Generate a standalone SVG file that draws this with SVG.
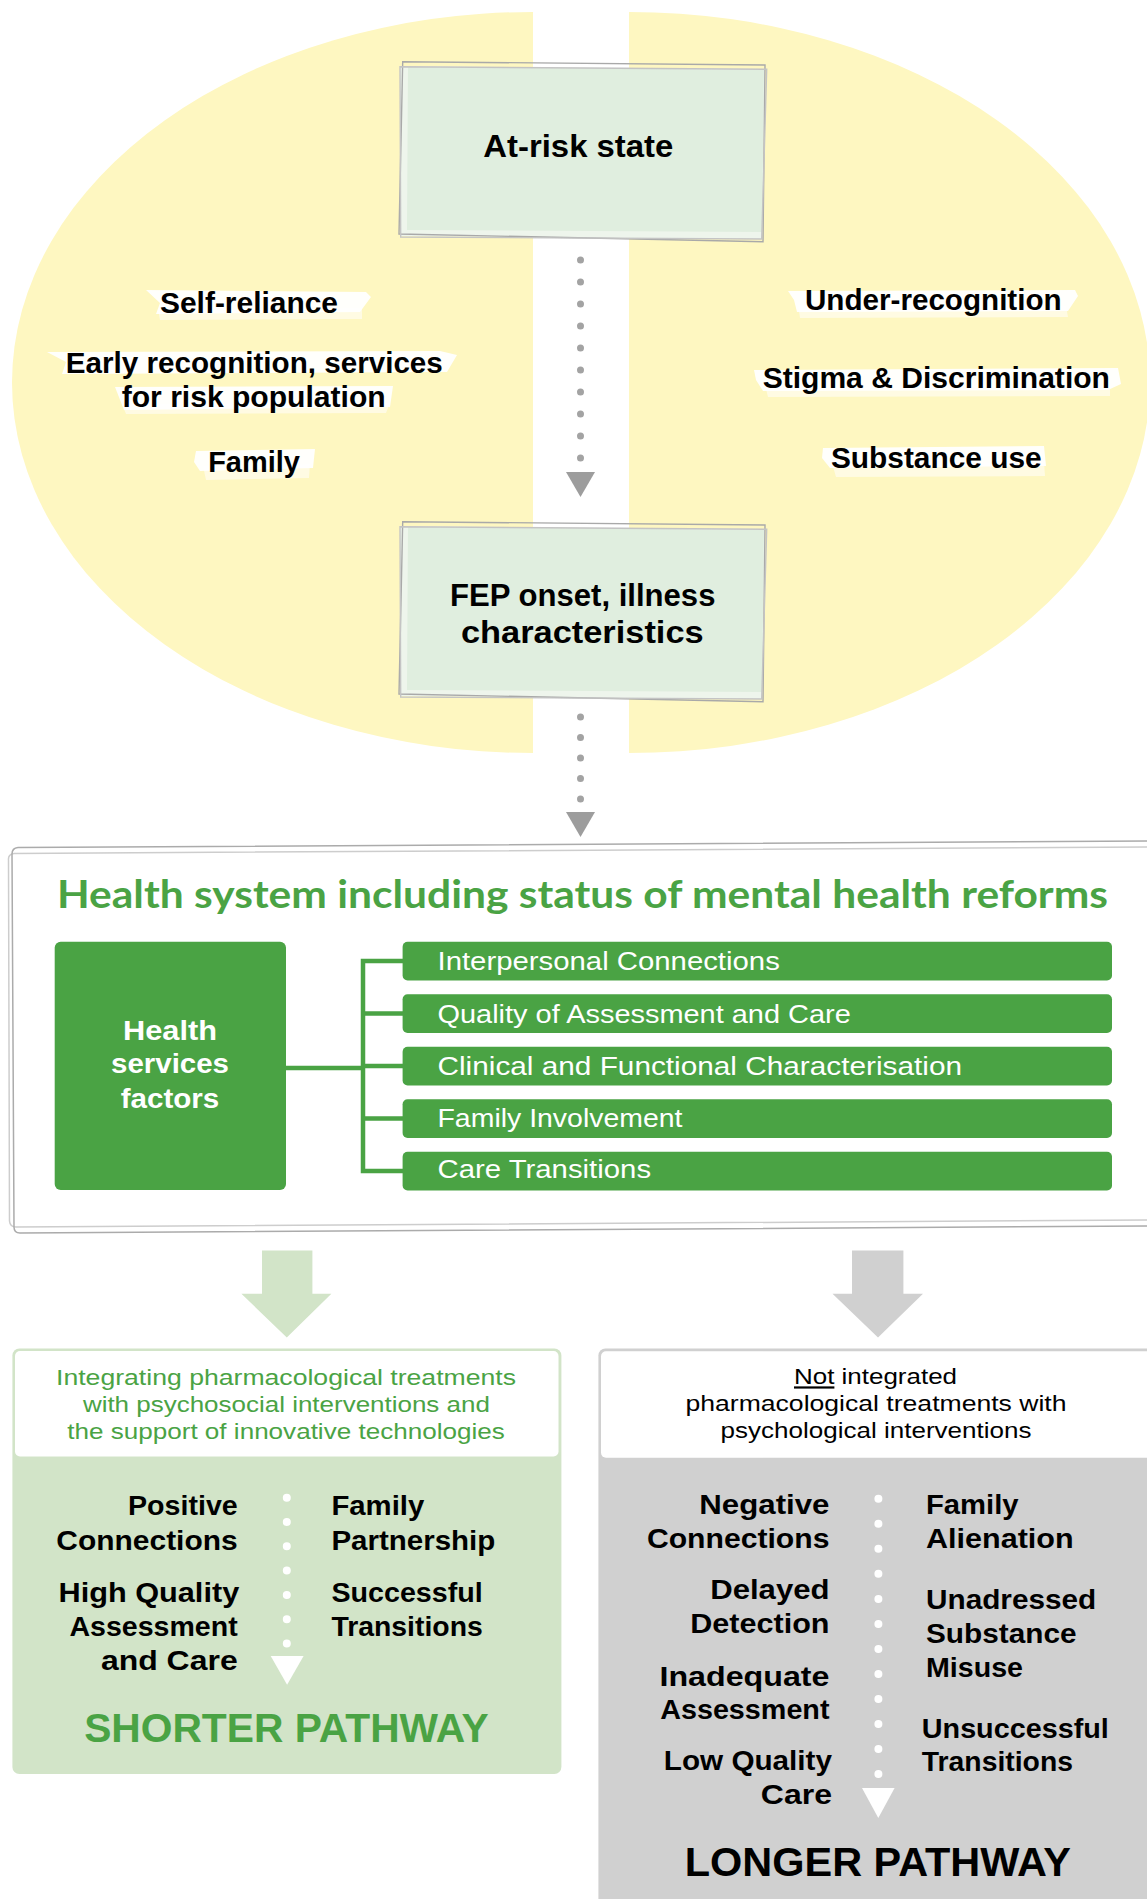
<svg xmlns="http://www.w3.org/2000/svg" xmlns:xlink="http://www.w3.org/1999/xlink" width="1147" height="1899" viewBox="0 0 1147 1899">
  <style>
    .sans { font-family: "Liberation Sans", Arial, sans-serif; }
    .lbl { font-family: "Liberation Sans", Arial, sans-serif; font-weight: bold; font-size: 30px; fill: #000; text-anchor: middle; }
    .node-title { font-family: "Liberation Sans", Arial, sans-serif; font-weight: bold; font-size: 31px; fill: #000; text-anchor: middle; }
    .hs-title { font-family: Lato, "Liberation Sans", sans-serif; font-weight: bold; font-size: 39px; fill: #4aa344; }
    .svc { font-family: "Liberation Sans", Arial, sans-serif; font-weight: bold; font-size: 28px; fill: #fff; text-anchor: middle; }
    .bar-txt { font-family: "Liberation Sans", Arial, sans-serif; font-size: 26px; fill: #fff; }
    .hdr { font-family: "Liberation Sans", Arial, sans-serif; font-size: 22px; text-anchor: middle; }
    .body { font-family: "Liberation Sans", Arial, sans-serif; font-weight: bold; font-size: 27px; fill: #000; }
    .r { text-anchor: end; }
    .pathway { font-family: "Liberation Sans", Arial, sans-serif; font-weight: bold; font-size: 40px; text-anchor: middle; }
    .brush { fill: #ffffff; opacity: 0.95; }
    .brush2 { fill: #ffffff; opacity: 0.55; }
    .green-bar { fill: #4aa344; }
    .tree { fill: none; stroke: #4aa344; stroke-width: 4.5; }
    .dots-grey { fill: none; stroke: #a3a3a3; stroke-width: 7; stroke-linecap: round; }
    .dots-white { fill: none; stroke: #ffffff; stroke-width: 8; stroke-linecap: round; }
  </style>
  <defs>
    <!-- hand-drawn looking box, reused for both stage nodes -->
    <g id="sketch-box">
      <polygon points="400,66 765,69 762,239 400,236" fill="#eef5ec"/>
      <polygon points="408,67 764,70 762,232 407,230" fill="#e0eedf"/>
      <polygon points="402.7,61.7 765,65 763,241.7 399,234" fill="none" stroke="#a9a9a9" stroke-width="1.4"/>
      <polygon points="400,66.7 766.7,69.3 761.7,239 400.7,237" fill="none" stroke="#c4c4c4" stroke-width="1.4"/>
    </g>
  </defs>

  <rect width="1147" height="1899" fill="#ffffff"/>

  <!-- yellow background split in two halves -->
  <g id="background-halves">
    <path d="M533 12 A521 370.5 0 0 0 533 753 Z" fill="#fef7c1"/>
    <path d="M629 12 A521 370.5 0 0 1 629 753 Z" fill="#fef7c1"/>
  </g>

  <!-- protective factors (left) -->
  <g id="label-self-reliance">
    <polygon class="brush" points="146,290 366,292 371,297 360,312 156,314 160,303"/>
    <polygon class="brush2" points="158,309 362,308 362,319 160,320"/>
    <text class="lbl" x="249" y="313.3" textLength="178" lengthAdjust="spacingAndGlyphs">Self-reliance</text>
  </g>
  <g id="label-early-recognition">
    <polygon class="brush" points="47,352 440,351 457,355 447,372 62,374 66,362"/>
    <polygon class="brush" points="115,387 393,386 390,407 124,410"/>
    <polygon class="brush2" points="122,404 390,403 386,413 126,414"/>
    <text class="lbl" x="254.3" y="372.5" textLength="377" lengthAdjust="spacingAndGlyphs">Early recognition, services</text>
    <text class="lbl" x="253.7" y="406.7" textLength="264" lengthAdjust="spacingAndGlyphs">for risk population</text>
  </g>
  <g id="label-family">
    <polygon class="brush" points="196,451 315,449 313,468 200,471 194,462"/>
    <polygon class="brush2" points="203,466 310,464 309,478 206,480"/>
    <text class="lbl" x="254" y="471.7" textLength="91.7" lengthAdjust="spacingAndGlyphs">Family</text>
  </g>

  <!-- risk factors (right) -->
  <g id="label-under-recognition">
    <polygon class="brush" points="788,291 1075,290 1078,296 1068,311 797,312 794,300"/>
    <polygon class="brush2" points="798,305 1066,306 1068,317 800,318"/>
    <text class="lbl" x="933.3" y="310" textLength="256.7" lengthAdjust="spacingAndGlyphs">Under-recognition</text>
  </g>
  <g id="label-stigma">
    <polygon class="brush" points="754,370 1118,368 1121,384 1108,390 763,391 756,380"/>
    <polygon class="brush2" points="765,385 1110,385 1110,396 768,397"/>
    <text class="lbl" x="936.3" y="388.3" textLength="347.3" lengthAdjust="spacingAndGlyphs">Stigma &amp; Discrimination</text>
  </g>
  <g id="label-substance-use">
    <polygon class="brush" points="823,448 1044,446 1046,466 830,468 822,458"/>
    <polygon class="brush2" points="832,463 1044,462 1045,476 836,477"/>
    <text class="lbl" x="936.3" y="468.3" textLength="210.7" lengthAdjust="spacingAndGlyphs">Substance use</text>
  </g>

  <!-- stage nodes -->
  <g id="node-at-risk">
    <use xlink:href="#sketch-box"/>
    <text class="node-title" x="578.3" y="156.7" font-size="32" textLength="190" lengthAdjust="spacingAndGlyphs">At-risk state</text>
  </g>
  <g id="node-fep">
    <use xlink:href="#sketch-box" y="460"/>
    <text class="node-title" x="582.7" y="606.3" textLength="265.5" lengthAdjust="spacingAndGlyphs">FEP onset, illness</text>
    <text class="node-title" x="582.3" y="642.5" textLength="242.8" lengthAdjust="spacingAndGlyphs">characteristics</text>
  </g>

  <!-- health system frame -->
  <g id="node-health-system">
    <path d="M1147 847 L14 853.5 Q8 854 8.5 860 L9.5 1221 Q10 1227 16 1227 L1147 1220" fill="#ffffff" stroke="#cdcdcd" stroke-width="1.5"/>
    <path d="M1147 841 L18 847.5 Q12 848 12 854 L14 1227 Q14 1233 20 1233 L1147 1226" fill="none" stroke="#ababab" stroke-width="1.5"/>
    <text class="hs-title" x="57" y="908.3" textLength="1051" lengthAdjust="spacingAndGlyphs">Health system including status of mental health reforms</text>
  </g>
  <g id="node-health-services">
    <rect x="54.7" y="941.7" width="231.3" height="248.3" rx="6" fill="#4aa344"/>
    <text class="svc" x="170" y="1040" textLength="94" lengthAdjust="spacingAndGlyphs">Health</text>
    <text class="svc" x="170" y="1073" textLength="118" lengthAdjust="spacingAndGlyphs">services</text>
    <text class="svc" x="170" y="1107.7" textLength="98.7" lengthAdjust="spacingAndGlyphs">factors</text>
  </g>
  <g id="node-interpersonal">
    <rect class="green-bar" x="402.6" y="941.7" width="709.4" height="38.7" rx="5"/>
    <text class="bar-txt" x="437.5" y="970" textLength="342.3" lengthAdjust="spacingAndGlyphs">Interpersonal Connections</text>
  </g>
  <g id="node-quality">
    <rect class="green-bar" x="402.6" y="994.2" width="709.4" height="38.7" rx="5"/>
    <text class="bar-txt" x="437.5" y="1022.7" textLength="413.3" lengthAdjust="spacingAndGlyphs">Quality of Assessment and Care</text>
  </g>
  <g id="node-clinical">
    <rect class="green-bar" x="402.6" y="1046.7" width="709.4" height="38.7" rx="5"/>
    <text class="bar-txt" x="437.5" y="1075" textLength="524.5" lengthAdjust="spacingAndGlyphs">Clinical and Functional Characterisation</text>
  </g>
  <g id="node-family-involvement">
    <rect class="green-bar" x="402.6" y="1099.2" width="709.4" height="38.7" rx="5"/>
    <text class="bar-txt" x="437.5" y="1127.3" textLength="245" lengthAdjust="spacingAndGlyphs">Family Involvement</text>
  </g>
  <g id="node-care-transitions">
    <rect class="green-bar" x="402.6" y="1151.7" width="709.4" height="38.7" rx="5"/>
    <text class="bar-txt" x="437.5" y="1178.3" textLength="213.6" lengthAdjust="spacingAndGlyphs">Care Transitions</text>
  </g>

  <!-- outcome panels -->
  <g id="node-shorter-pathway">
    <rect x="12.4" y="1348.5" width="549" height="425.5" rx="7" fill="#d2e4c8"/>
    <rect x="15" y="1351" width="543.5" height="105.5" rx="5" fill="#ffffff"/>
    <text class="hdr" fill="#4aa344" x="286" y="1385" textLength="460" lengthAdjust="spacingAndGlyphs">Integrating pharmacological treatments</text>
    <text class="hdr" fill="#4aa344" x="286.4" y="1412.3" textLength="407" lengthAdjust="spacingAndGlyphs">with psychosocial interventions and</text>
    <text class="hdr" fill="#4aa344" x="286" y="1438.8" textLength="437.5" lengthAdjust="spacingAndGlyphs">the support of innovative technologies</text>
    <text class="body r" x="237.7" y="1515.3" textLength="109.7" lengthAdjust="spacingAndGlyphs">Positive</text>
    <text class="body r" x="237.7" y="1549.8" textLength="181.4" lengthAdjust="spacingAndGlyphs">Connections</text>
    <text class="body r" x="239.2" y="1601.5" textLength="180.7" lengthAdjust="spacingAndGlyphs">High Quality</text>
    <text class="body r" x="237.7" y="1636" textLength="168.2" lengthAdjust="spacingAndGlyphs">Assessment</text>
    <text class="body r" x="237.7" y="1669.6" textLength="136.8" lengthAdjust="spacingAndGlyphs">and Care</text>
    <text class="body" x="331.4" y="1515.3" textLength="92.9" lengthAdjust="spacingAndGlyphs">Family</text>
    <text class="body" x="331.4" y="1549.8" textLength="163.9" lengthAdjust="spacingAndGlyphs">Partnership</text>
    <text class="body" x="331.4" y="1601.5" textLength="151.4" lengthAdjust="spacingAndGlyphs">Successful</text>
    <text class="body" x="331.4" y="1636" textLength="151.4" lengthAdjust="spacingAndGlyphs">Transitions</text>
    <path class="dots-white" d="M286.8 1497.7 V1644.5" stroke-dasharray="0 24.3"/>
    <polygon points="270.7,1656 303.6,1656 287.1,1684.7" fill="#ffffff"/>
    <text class="pathway" fill="#4aa344" x="286.4" y="1742.3" textLength="404.5" lengthAdjust="spacingAndGlyphs">SHORTER PATHWAY</text>
  </g>

  <g id="node-longer-pathway">
    <rect x="598.4" y="1348.5" width="600" height="600" rx="7" fill="#d0d0d0"/>
    <rect x="601" y="1351.3" width="560" height="106.4" rx="5" fill="#ffffff"/>
    <text class="hdr" fill="#000" x="875.5" y="1384.4" textLength="163" lengthAdjust="spacingAndGlyphs"><tspan text-decoration="underline">Not</tspan> integrated</text>
    <text class="hdr" fill="#000" x="876" y="1411.3" textLength="381" lengthAdjust="spacingAndGlyphs">pharmacological treatments with</text>
    <text class="hdr" fill="#000" x="876" y="1438.2" textLength="311" lengthAdjust="spacingAndGlyphs">psychological interventions</text>
    <text class="body r" x="829.5" y="1513.7" textLength="130.2" lengthAdjust="spacingAndGlyphs">Negative</text>
    <text class="body r" x="829.5" y="1547.8" textLength="182.6" lengthAdjust="spacingAndGlyphs">Connections</text>
    <text class="body r" x="829.5" y="1599" textLength="119.3" lengthAdjust="spacingAndGlyphs">Delayed</text>
    <text class="body r" x="829.5" y="1633" textLength="139.2" lengthAdjust="spacingAndGlyphs">Detection</text>
    <text class="body r" x="829.5" y="1685.6" textLength="170" lengthAdjust="spacingAndGlyphs">Inadequate</text>
    <text class="body r" x="829.5" y="1718.5" textLength="169.3" lengthAdjust="spacingAndGlyphs">Assessment</text>
    <text class="body r" x="832" y="1769.7" textLength="168.2" lengthAdjust="spacingAndGlyphs">Low Quality</text>
    <text class="body r" x="832" y="1803.8" textLength="71.2" lengthAdjust="spacingAndGlyphs">Care</text>
    <text class="body" x="926" y="1513.7" textLength="92.6" lengthAdjust="spacingAndGlyphs">Family</text>
    <text class="body" x="926" y="1547.8" textLength="147.6" lengthAdjust="spacingAndGlyphs">Alienation</text>
    <text class="body" x="926" y="1608.8" textLength="170.3" lengthAdjust="spacingAndGlyphs">Unadressed</text>
    <text class="body" x="926" y="1643" textLength="150.5" lengthAdjust="spacingAndGlyphs">Substance</text>
    <text class="body" x="926" y="1677" textLength="97" lengthAdjust="spacingAndGlyphs">Misuse</text>
    <text class="body" x="921.8" y="1737.7" textLength="187" lengthAdjust="spacingAndGlyphs">Unsuccessful</text>
    <text class="body" x="921.8" y="1771" textLength="151.2" lengthAdjust="spacingAndGlyphs">Transitions</text>
    <path class="dots-white" d="M878.4 1498.8 V1775" stroke-dasharray="0 25.02"/>
    <polygon points="862,1788 894.6,1788 878.3,1817.9" fill="#ffffff"/>
    <text class="pathway" fill="#000" x="877.8" y="1876.3" textLength="386" lengthAdjust="spacingAndGlyphs">LONGER PATHWAY</text>
  </g>

  <!-- connectors -->
  <g id="connectors">
    <path class="dots-grey" d="M580.5 260 V459" stroke-dasharray="0 22"/>
    <polygon points="566,472 595,472 580.5,497" fill="#9d9d9d"/>
    <path class="dots-grey" d="M580.5 717 V800" stroke-dasharray="0 20.5"/>
    <polygon points="566,812 595,812 580.5,837" fill="#9d9d9d"/>
    <path class="tree" d="M286 1068 H363"/>
    <path class="tree" d="M403 961 H363 V1171 H403"/>
    <path class="tree" d="M363 1013.5 H403 M363 1066 H403 M363 1118.5 H403"/>
    <polygon points="262,1250.5 312.4,1250.5 312.4,1293.8 331.4,1293.8 286.8,1337.5 241.4,1293.8 262,1293.8" fill="#d2e4c8"/>
    <polygon points="852,1250.5 903.4,1250.5 903.4,1293.8 923,1293.8 878,1337.5 832.5,1293.8 852,1293.8" fill="#d0d0d0"/>
  </g>
</svg>
